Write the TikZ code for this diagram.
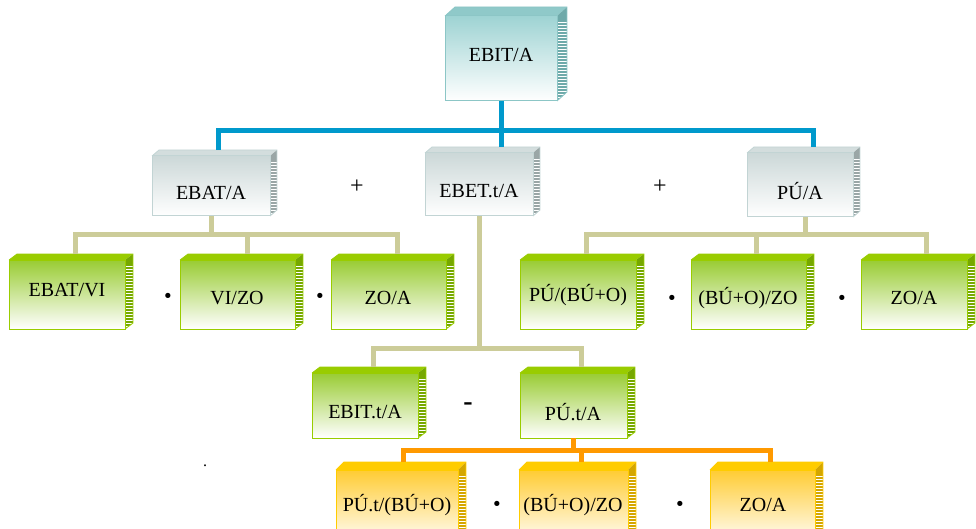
\documentclass[tikz,border=0pt]{standalone}
\usepackage{fontspec}
\setmainfont{Liberation Serif}
\definecolor{tealF}{HTML}{9ED3D3}
\definecolor{tealB}{HTML}{8CC6C6}
\definecolor{tealTop}{HTML}{8FC9C9}
\definecolor{tealSide}{HTML}{6FAAAA}
\definecolor{silverF}{HTML}{CCD8D8}
\definecolor{silverB}{HTML}{C2D4D4}
\definecolor{silverTop}{HTML}{D3DDDD}
\definecolor{silverSide}{HTML}{9AA6A6}
\definecolor{greenF}{HTML}{99CC33}
\definecolor{greenB}{HTML}{99CC00}
\definecolor{greenTop}{HTML}{99CC00}
\definecolor{greenSide}{HTML}{76A800}
\definecolor{yellowF}{HTML}{FFCC33}
\definecolor{yellowB}{HTML}{FFCC00}
\definecolor{yellowTop}{HTML}{FFCC00}
\definecolor{yellowSide}{HTML}{D4A600}
\definecolor{blueC}{HTML}{0099CC}
\definecolor{khakiC}{HTML}{CCCC99}
\definecolor{orangeC}{HTML}{FF9900}
\newcommand\mkbox[8]{%
  \pgfmathsetmacro\bw{#4-#2}\pgfmathsetmacro\bh{#5-#3}%
  \pgfmathsetmacro\cx{(#2+#4)/2}\pgfmathsetmacro\cy{(#3+#5)/2}%
  \fill[#8top] (#2,#3) -- (#2+#6,#3-#7) -- (#4+#6,#3-#7) -- (#4,#3) -- cycle;
  \begin{scope}
    \clip (#4,#3) -- (#4+#6,#3-#7) -- (#4+#6,#5-#7) -- (#4,#5) -- cycle;
    \fill[#8side] (#4,#3-#7) rectangle (#4+#6,#5);
    \foreach \k in {2,...,32} \draw[white,line width=0.9pt] (#4-1,#3+3*\k) -- (#4+#6+1,#3+3*\k);
  \end{scope}
  \draw[#8edge] (#2,#3) -- (#2+#6,#3-#7) -- (#4+#6,#3-#7) -- (#4+#6,#5-#7) -- (#4,#5);
  \node[#8front, minimum width=\bw pt, minimum height=\bh pt] (#1) at (\cx,\cy) {};
}
\begin{document}
\begin{tikzpicture}[x=1pt,y=-1pt,
  frontbase/.style={rectangle, inner sep=0pt, outer sep=0pt, line width=1pt},
  tealfront/.style={frontbase, draw=tealB, top color=tealF, bottom color=white},
  tealtop/.style={fill=tealTop}, tealside/.style={fill=tealSide}, tealedge/.style={draw=tealB, line width=0.8pt},
  silverfront/.style={frontbase, draw=silverB, top color=silverF, bottom color=white},
  silvertop/.style={fill=silverTop}, silverside/.style={fill=silverSide}, silveredge/.style={draw=silverB, line width=0.8pt},
  greenfront/.style={frontbase, draw=greenB, top color=greenF, bottom color=white},
  greentop/.style={fill=greenTop}, greenside/.style={fill=greenSide}, greenedge/.style={draw=greenB, line width=0.8pt},
  yellowfront/.style={frontbase, draw=yellowB, top color=yellowF, bottom color=white},
  yellowtop/.style={fill=yellowTop}, yellowside/.style={fill=yellowSide}, yellowedge/.style={draw=yellowB, line width=0.8pt},
  lbl/.style={inner sep=0pt, font=\fontsize{20}{23}\selectfont},
  opsign/.style={inner sep=0pt, font=\fontsize{24}{26}\selectfont},
  dotsign/.style={inner sep=0pt, font=\fontsize{32}{34}\selectfont\bfseries},
  bluec/.style={draw=blueC, line width=5pt},
  khakic/.style={draw=khakiC, line width=5pt},
  orangec/.style={draw=orangeC, line width=5pt}]
\useasboundingbox (0,0) rectangle (976,529);
\clip (0,0) rectangle (976,529);
\coordinate (busA) at (0,131);
\coordinate (busB) at (0,235);
\coordinate (busC) at (0,348);
\coordinate (busD) at (0,450);
% boxes
\mkbox{top}{445}{16}{557}{101}{10}{9}{teal}
\mkbox{ebat}{152}{156}{270}{216}{7}{6}{silver}
\mkbox{ebet}{425}{153}{533}{216}{7}{6}{silver}
\mkbox{pua}{747}{153}{853}{217}{7}{6}{silver}
\mkbox{ebatvi}{9}{260}{125}{329}{8}{6}{green}
\mkbox{vizo}{180}{260}{295}{329}{8}{6}{green}
\mkbox{zoa}{331}{260}{446}{329}{8}{6}{green}
\mkbox{pubo}{520}{260}{636}{329}{8}{6}{green}
\mkbox{bozo}{691}{260}{806}{329}{8}{6}{green}
\mkbox{zob}{861}{260}{967}{329}{8}{6}{green}
\mkbox{ebitt}{312}{373}{418}{438}{8}{6}{green}
\mkbox{put}{520}{373}{627}{438}{8}{6}{green}
\mkbox{ptbo}{336}{470}{458}{545}{8}{8}{yellow}
\mkbox{bozoy}{519}{470}{628}{545}{8}{8}{yellow}
\mkbox{zoy}{710}{470}{815}{545}{8}{8}{yellow}
% blue connectors
\draw[bluec] (top.south) -- ([yshift=6pt]top.south |- ebet.north);
\draw[bluec] ([xshift=7pt,yshift=6pt]ebat.north) |- ([xshift=13pt]pua.north |- busA) -- ([xshift=13pt,yshift=6pt]pua.north);
% khaki left
\draw[khakic] (ebat.south) -- (ebat.south |- busB);
\draw[khakic] ([xshift=8pt,yshift=6pt]ebatvi.north) |- ([xshift=8.5pt]zoa.north |- busB) -- ([xshift=8.5pt,yshift=6pt]zoa.north);
\draw[khakic] ([xshift=9.5pt]vizo.north |- busB) -- ([xshift=9.5pt,yshift=6pt]vizo.north);
% khaki right
\draw[khakic] ([xshift=5pt]pua.south) -- ([xshift=5pt]pua.south |- busB);
\draw[khakic] ([xshift=8pt,yshift=6pt]pubo.north) |- ([xshift=12pt]zob.north |- busB) -- ([xshift=12pt,yshift=6pt]zob.north);
\draw[khakic] ([xshift=7.5pt]bozo.north |- busB) -- ([xshift=7.5pt,yshift=6pt]bozo.north);
% khaki middle
\draw[khakic] (ebet.south) -- (ebet.south |- busC);
\draw[khakic] ([xshift=8pt,yshift=6pt]ebitt.north) |- ([xshift=7.5pt]put.north |- busC) -- ([xshift=7.5pt,yshift=6pt]put.north);
% orange
\draw[orangec] (put.south) -- (put.south |- busD);
\draw[orangec] ([xshift=6pt,yshift=8pt]ptbo.north) |- ([xshift=7.5pt]zoy.north |- busD) -- ([xshift=7.5pt,yshift=8pt]zoy.north);
\draw[orangec] ([xshift=7.5pt]bozoy.north |- busD) -- ([xshift=7.5pt,yshift=8pt]bozoy.north);
% labels
\node[lbl] (l-top) at (501,55) {EBIT/A};
\node[lbl] (l-ebat) at (211,193) {EBAT/A};
\node[lbl] (l-ebet) at (479,191) {EBET.t/A};
\node[lbl] (l-pua) at (800,191) {PÚ/A};
\node[lbl] (l-ebatvi) at (67,290) {EBAT/VI};
\node[lbl] (l-vizo) at (237,298) {VI/ZO};
\node[lbl] (l-zoa) at (388,298) {ZO/A};
\node[lbl] (l-pubo) at (578,295) {PÚ/(BÚ+O)};
\node[lbl] (l-bozo) at (748,298) {(BÚ+O)/ZO};
\node[lbl] (l-zob) at (914,298) {ZO/A};
\node[lbl] (l-ebitt) at (365,412) {EBIT.t/A};
\node[lbl] (l-put) at (573,412) {PÚ.t/A};
\node[lbl] (l-ptbo) at (397,505) {PÚ.t/(BÚ+O)};
\node[lbl] (l-bozoy) at (573,505) {(BÚ+O)/ZO};
\node[lbl] (l-zoy) at (763,505) {ZO/A};
% operators
\node[opsign] (plus1) at (357,187) {+};
\node[opsign] (plus2) at (660,187) {+};
\node[inner sep=0pt, font=\fontsize{28}{30}\selectfont\bfseries] (minus) at (468,407) {-};
\node[dotsign] (d1) at (168,300) {·};
\node[dotsign] (d2) at (320,300) {·};
\node[dotsign] (d3) at (672,302) {·};
\node[dotsign] (d4) at (842,302) {·};
\node[dotsign] (d5) at (497,508) {·};
\node[dotsign] (d6) at (680,508) {·};
\node[inner sep=0pt, font=\fontsize{16}{18}\selectfont] (stray) at (205,466) {.};
\end{tikzpicture}
\end{document}
